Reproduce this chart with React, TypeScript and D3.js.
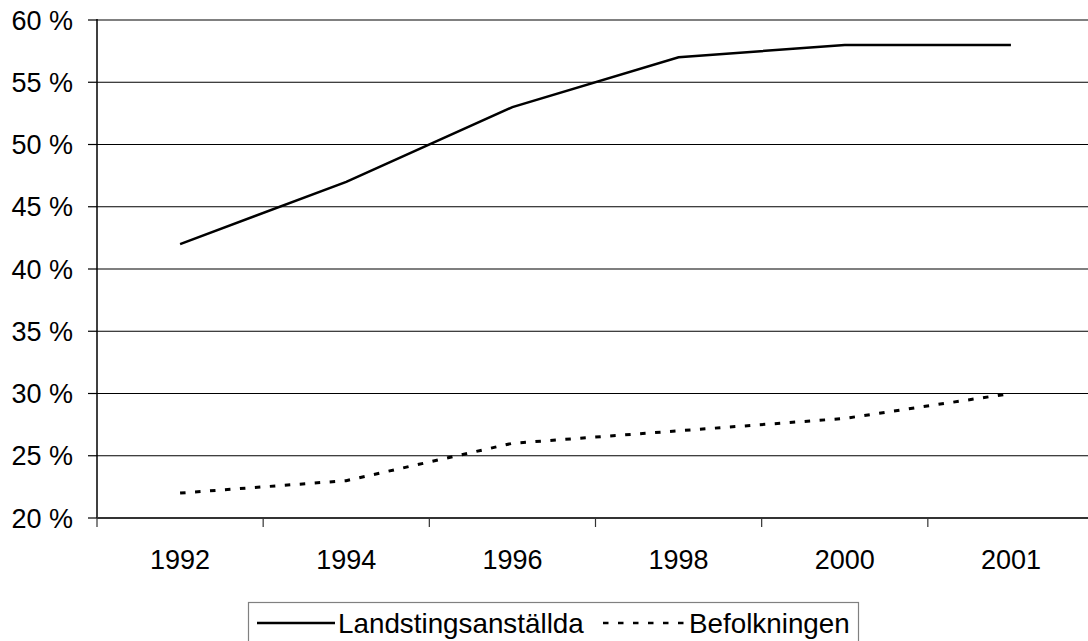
import React from "react";
import * as d3 from "d3";

const years = ["1992", "1994", "1996", "1998", "2000", "2001"];
const landsting = [42, 47, 53, 57, 58, 58];
const befolkning = [22, 23, 26, 27, 28, 30];
const yTicks = [20, 25, 30, 35, 40, 45, 50, 55, 60];
const seriesNames = ["Landstingsanställda", "Befolkningen"];

const W = 1088;
const H = 641;
const left = 97;
const right = 1094;
const top = 20;
const bottom = 518;
const FONT = "'Liberation Sans', Arial, sans-serif";
const FS = 27;

export default function App() {
  const x = d3.scaleBand<string>().domain(years).range([left, right]);
  const y = d3.scaleLinear().domain([20, 60]).range([bottom, top]);
  const line = d3
    .line<number>()
    .x((_, i) => (x(years[i]) as number) + x.bandwidth() / 2)
    .y((d) => y(d));

  const boundaries = years.map((yr) => x(yr) as number).concat([right]);

  return (
    <div style={{ position: "fixed", left: 0, top: 0, width: W, height: H, background: "#fff" }}>
      <svg width={W} height={H} style={{ display: "block" }} fontFamily={FONT}>
        <rect x={0} y={0} width={W} height={H} fill="#fff" />
        {yTicks.map((t) =>
          t === 20 ? null : (
            <line
              key={"g" + t}
              x1={left}
              x2={right}
              y1={y(t)}
              y2={y(t)}
              stroke={t === 60 ? "#808080" : "#000"}
              strokeWidth={t === 60 ? 2 : 1.2}
            />
          )
        )}
        <line x1={left} x2={left} y1={top - 1} y2={bottom} stroke="#000" strokeWidth={1.5} />
        {yTicks.map((t) => (
          <g key={"yt" + t}>
            <line x1={left - 9} x2={left} y1={y(t)} y2={y(t)} stroke="#000" strokeWidth={1.2} />
            <text x={73} y={y(t)} dy="0.36em" textAnchor="end" fontSize={FS} fill="#000">
              {t + " %"}
            </text>
          </g>
        ))}
        <line x1={left} x2={right} y1={bottom} y2={bottom} stroke="#333" strokeWidth={1.8} />
        {boundaries.map((b, i) => (
          <line key={"xt" + i} x1={b} x2={b} y1={bottom} y2={bottom + 9} stroke="#333" strokeWidth={1.2} />
        ))}
        {years.map((yr) => (
          <text
            key={"xl" + yr}
            x={(x(yr) as number) + x.bandwidth() / 2}
            y={569}
            textAnchor="middle"
            fontSize={FS}
            fill="#000"
          >
            {yr}
          </text>
        ))}
        <path d={line(landsting) || ""} fill="none" stroke="#000" strokeWidth={2.5} />
        <path
          d={line(befolkning) || ""}
          fill="none"
          stroke="#000"
          strokeWidth={3}
          strokeDasharray="5.5 9.5"
        />
        <rect x={248.5} y={602.5} width={610} height={42} fill="#fff" stroke="#808080" strokeWidth={1.2} />
        <line x1={257} x2={335} y1={623} y2={623} stroke="#000" strokeWidth={2.5} />
        <text x={338} y={633} fontSize={27.8} fill="#000">
          {seriesNames[0]}
        </text>
        <line
          x1={603}
          x2={686}
          y1={623}
          y2={623}
          stroke="#000"
          strokeWidth={2.5}
          strokeDasharray="5.5 9.5"
        />
        <text x={689} y={633} fontSize={27.8} fill="#000">
          {seriesNames[1]}
        </text>
      </svg>
    </div>
  );
}
